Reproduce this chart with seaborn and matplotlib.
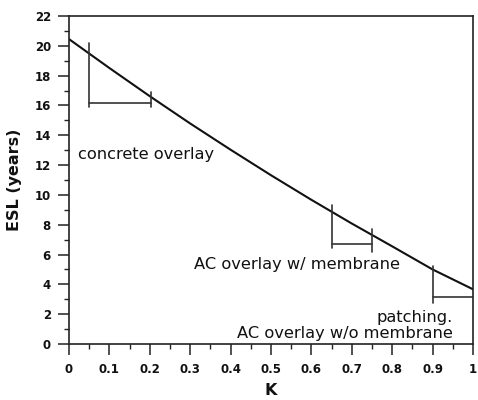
import matplotlib
matplotlib.use("Agg")
import matplotlib.pyplot as plt
from matplotlib.ticker import MultipleLocator, FixedLocator, FixedFormatter
import seaborn as sns
import pandas as pd

# ---- data ----
k_values = [0.0, 0.1, 0.2, 0.3, 0.4, 0.5, 0.6, 0.7, 0.8, 0.9, 1.0]
esl_values = [20.45, 18.51, 16.62, 14.79, 13.03, 11.32, 9.67, 8.08, 6.55, 5.0, 3.67]

x_ticks = [0, 0.1, 0.2, 0.3, 0.4, 0.5, 0.6, 0.7, 0.8, 0.9, 1.0]
x_tick_labels = ["0", "0.1", "0.2", "0.3", "0.4", "0.5", "0.6", "0.7", "0.8", "0.9", "1"]
y_ticks = [0, 2, 4, 6, 8, 10, 12, 14, 16, 18, 20, 22]

# brackets
bracket_k_start = [0.05, 0.652, 0.90]
bracket_k_end = [0.203, 0.75, 1.0]
bracket_v_low = [15.88, 6.44, 2.73]
bracket_v_high = [20.17, 9.32, 5.2]
bracket_h_level = [16.15, 6.7, 3.17]
endtick_low = [15.9, 6.19, None]
endtick_high = [16.9, 7.69, None]

labels = ["concrete overlay", "AC overlay w/ membrane", "patching.", "AC overlay w/o membrane"]
label_x = [0.022, 0.309, 0.951, 0.951]
label_y = [12.4, 5.03, 1.48, 0.40]
label_ha = ["left", "left", "right", "right"]

df = pd.DataFrame({"K": k_values, "ESL": esl_values})

sns.set_theme(style="ticks")
plt.rcParams["font.family"] = ["DejaVu Sans"]

fig = plt.figure(figsize=(4.78, 4.0), dpi=100)
left_px, right_px, top_px, bottom_px = 69, 473, 16, 344
ax = fig.add_axes([left_px / 478, 1 - bottom_px / 400,
                   (right_px - left_px) / 478, (bottom_px - top_px) / 400])

sns.lineplot(data=df, x="K", y="ESL", ax=ax, color="#111111", linewidth=1.5)

bcol = "#333333"
for i in range(len(bracket_k_start)):
    ax.plot([bracket_k_start[i], bracket_k_start[i]], [bracket_v_low[i], bracket_v_high[i]],
            color=bcol, lw=1.2)
    ax.plot([bracket_k_start[i], bracket_k_end[i]], [bracket_h_level[i], bracket_h_level[i]],
            color=bcol, lw=1.2)
    if endtick_low[i] is not None:
        ax.plot([bracket_k_end[i], bracket_k_end[i]], [endtick_low[i], endtick_high[i]],
                color=bcol, lw=1.2)

for t, x, y, ha in zip(labels, label_x, label_y, label_ha):
    ax.text(x, y, t, ha=ha, va="baseline", fontsize=11.7, color="#111111")

ax.set_xlim(0, 1)
ax.set_ylim(0, 22)
ax.xaxis.set_major_locator(FixedLocator(x_ticks))
ax.xaxis.set_major_formatter(FixedFormatter(x_tick_labels))
ax.xaxis.set_minor_locator(MultipleLocator(0.05))
ax.yaxis.set_major_locator(FixedLocator(y_ticks))
ax.yaxis.set_minor_locator(MultipleLocator(1))

for s in ax.spines.values():
    s.set_visible(True)
    s.set_color("#222222")
    s.set_linewidth(1.2)

ax.tick_params(which="major", direction="out", length=8, width=1.1, color="#222222",
               labelsize=8.5, pad=5)
ax.tick_params(which="minor", direction="out", length=3.5, width=1.0, color="#222222")
ax.tick_params(axis="x", which="major", pad=6)
for lab in ax.get_xticklabels() + ax.get_yticklabels():
    lab.set_fontweight("bold")
    lab.set_color("#111111")

ax.set_xlabel("K", fontsize=11.5, fontweight="bold", labelpad=5, color="#111111")
ax.set_ylabel("ESL (years)", fontsize=11.5, fontweight="bold", labelpad=9, color="#111111")

fig.savefig("out.png", dpi=100)
